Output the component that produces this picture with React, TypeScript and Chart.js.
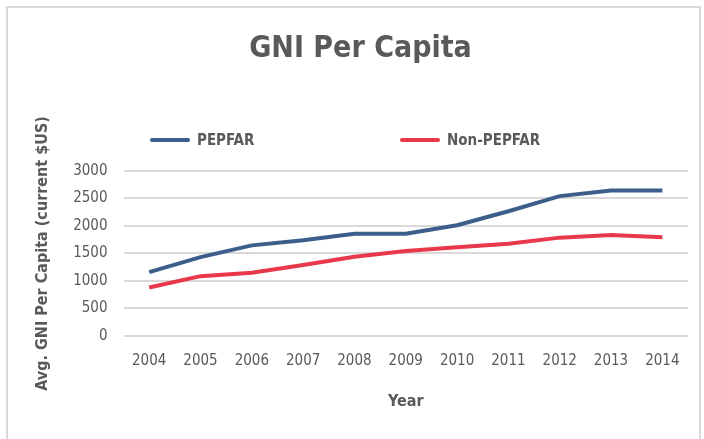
import React, { useEffect, useRef } from "react";
import { Chart, registerables } from "chart.js";

Chart.register(...registerables);

const years = ["2004", "2005", "2006", "2007", "2008", "2009", "2010", "2011", "2012", "2013", "2014"];
const pepfar = [1158, 1432, 1646, 1738, 1859, 1859, 2012, 2268, 2543, 2646, 2646];
const nonPepfar = [878, 1086, 1146, 1287, 1440, 1544, 1610, 1677, 1787, 1835, 1793];
const seriesNames = ["PEPFAR", "Non-PEPFAR"];
const colors = ["#3B5F8A", "#E8384A"];

const FONT = "'Liberation Sans Narrow', 'DejaVu Sans Condensed', 'Roboto Condensed', 'Liberation Sans', sans-serif";
const TEXT = "#595959";

export default function App() {
  const ref = useRef<HTMLCanvasElement | null>(null);
  useEffect(() => {
    document.body.style.margin = "0";
    if (!ref.current) return;
    const chart = new Chart(ref.current, {
      type: "line",
      data: {
        labels: years,
        datasets: [
          { label: seriesNames[0], data: pepfar, borderColor: colors[0], backgroundColor: colors[0], borderWidth: 4, pointRadius: 0, tension: 0 },
          { label: seriesNames[1], data: nonPepfar, borderColor: colors[1], backgroundColor: colors[1], borderWidth: 4, pointRadius: 0, tension: 0 },
        ],
      },
      options: {
        animation: false,
        responsive: false,
        layout: { padding: { left: 33, right: 16, top: 0, bottom: 28 } },
        plugins: {
          legend: { display: false },
          tooltip: { enabled: false },
          title: {
            display: true,
            text: "GNI Per Capita",
            color: TEXT,
            font: { family: FONT, size: 30, weight: "bold" },
            padding: { top: 31, bottom: 104 },
          },
        },
        scales: {
          x: {
            offset: true,
            grid: { display: false },
            border: { display: false },
            ticks: { color: TEXT, font: { family: FONT, size: 15 }, padding: 8, maxRotation: 0, autoSkip: false },
            title: { display: true, text: "Year", color: TEXT, font: { family: FONT, size: 16, weight: "bold" }, padding: { top: 14, bottom: 0 } },
          },
          y: {
            min: 0,
            max: 3000,
            grid: { color: "#D9D9D9", lineWidth: 2, drawTicks: false },
            border: { display: false },
            ticks: {
              stepSize: 500,
              color: TEXT,
              font: { family: FONT, size: 15 },
              padding: 16,
              callback: (v: any) => String(v),
            },
            title: { display: true, text: "Avg. GNI Per Capita (current $US)", color: TEXT, font: { family: FONT, size: 16, weight: "bold" }, padding: { top: 0, bottom: 5 } },
          },
        },
      },
    });
    return () => chart.destroy();
  }, []);

  const legendItem = (i: number, left: number) => (
    <div key={i} style={{ position: "absolute", left, top: 130, display: "flex", alignItems: "center", height: 20 }}>
      <div style={{ width: 40, height: 4, borderRadius: 2, background: colors[i], marginRight: 7 }} />
      <span style={{ fontFamily: FONT, fontWeight: "bold", fontSize: 15, color: TEXT }}>{seriesNames[i]}</span>
    </div>
  );

  return (
    <div style={{ position: "relative", width: 704, height: 439, overflow: "hidden", background: "#fff" }}>
      <div style={{ position: "absolute", left: 6, top: 6, width: 695, height: 440, border: "2px solid #D9D9D9", boxSizing: "border-box" }} />
      <canvas ref={ref} width={704} height={439} style={{ position: "absolute", left: 0, top: 0 }} />
      {legendItem(0, 150)}
      {legendItem(1, 400)}
    </div>
  );
}
